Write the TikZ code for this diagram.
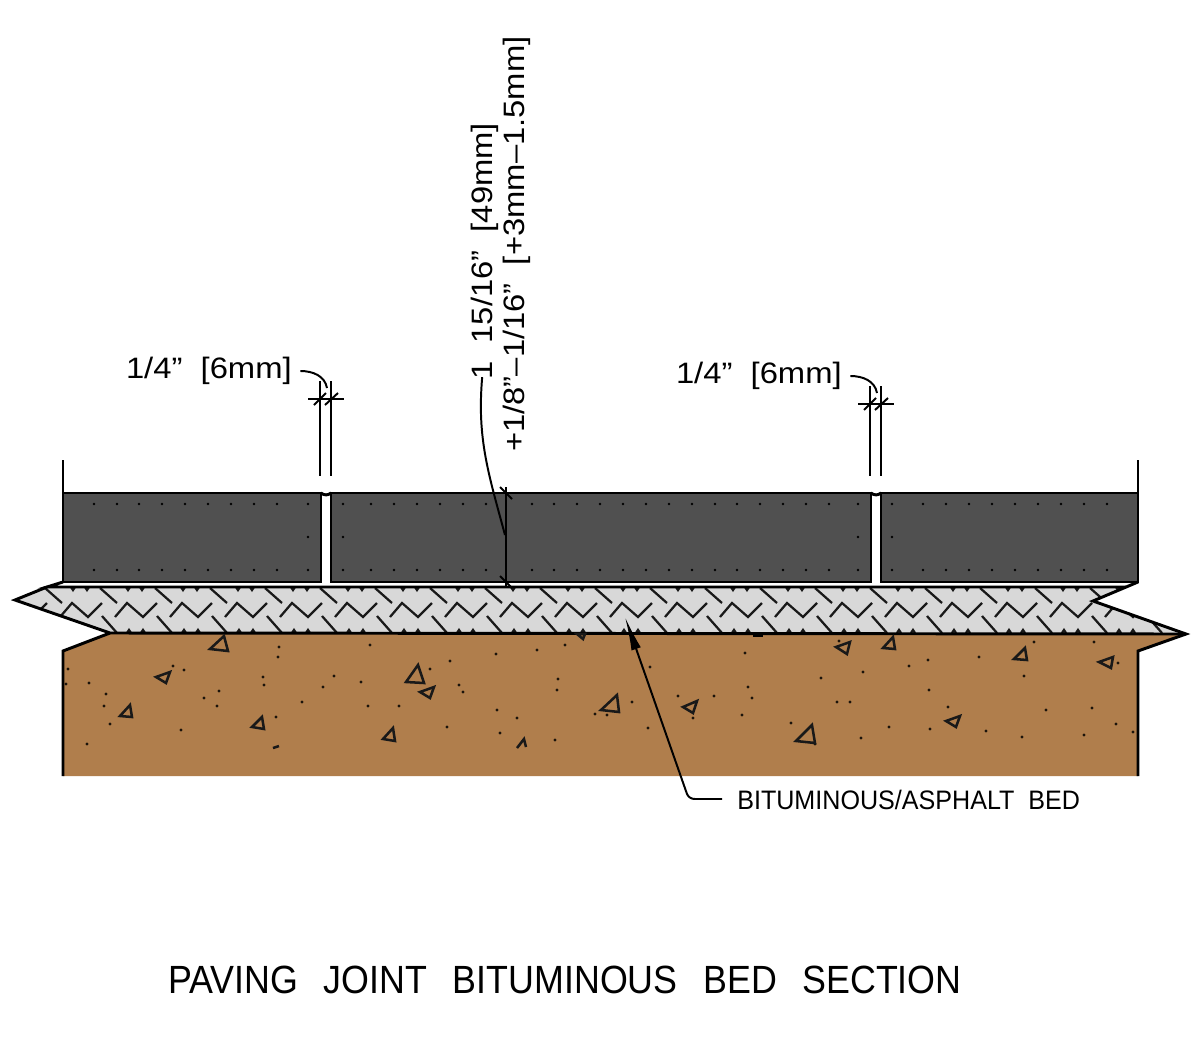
\documentclass[tikz,border=0pt]{standalone}
\usepackage{fontspec}
\setmainfont{Liberation Sans}
\newfontfamily\dimfont[FakeStretch=1.11]{Liberation Sans}
\newfontfamily\notefont[FakeStretch=0.94]{Liberation Sans}
\newfontfamily\titlefont[FakeStretch=0.91]{Liberation Sans}
\newcommand{\wgap}{\ \ \hspace{4pt}}
\usepackage{tikz}
\usetikzlibrary{positioning, arrows.meta}
\definecolor{paver}{HTML}{505050}
\definecolor{bedfill}{HTML}{D8D8D8}
\definecolor{soil}{HTML}{B07E4C}
\tikzset{L/.style={line width=2.1pt, line join=miter, black}}
\tikzset{H/.style={line width=1.6pt, black!90}}
\tikzset{G/.style={line width=1.8pt, black!90}}
\tikzset{D/.style={line width=1.4pt, black}}
\tikzset{T/.style={inner sep=0pt, font=\dimfont\fontsize{21pt}{24pt}\selectfont}}
\tikzset{N/.style={inner sep=0pt, font=\notefont\fontsize{19pt}{22pt}\selectfont}}
\begin{document}
\begin{tikzpicture}[x=0.25mm, y=-0.25mm]
        \useasboundingbox (0,0) rectangle (1200,1050);
        %% Soil and bed
        \path[fill=soil] (110,633) -- (1186,634) -- (1138,651) -- (1138,776) -- (63,776) -- (63,651) -- cycle;
        \path[fill=bedfill] (47,587) -- (1126,587) -- (1093,601) -- (1186,634) -- (110,633) -- (15,600) -- cycle;
        %% Bed hatching
        \begin{scope}
        \clip (47,587) -- (1126,587) -- (1093,601) -- (1186,634) -- (110,633) -- (15,600) -- cycle;
        \foreach \s in {5,60,...,1105} {
            \draw[H] (\s,617) -- ++(12,-14) -- ++(16,14) -- ++(14,-14);
            \draw[H] (\s+40,588) -- ++(17,15);
            \draw[H] (\s+42,616) -- ++(15,17);
            \draw[H] (\s+11,587) -- ++(2,3) -- ++(2,-3);
            \draw[H] (\s+25,587) -- ++(2,3) -- ++(2,-3);
            \draw[H] (\s+12,633) -- ++(2,-3) -- ++(2,3);
            \draw[H] (\s+26,633) -- ++(2,-3) -- ++(2,3);
        }
        \end{scope}
        %% Pavers
        \draw[L,fill=paver] (63,493) rectangle (321,582);
        \draw[L,fill=paver] (331,493) rectangle (506,582);
        \draw[L,fill=paver] (506,493) rectangle (871,582);
        \draw[L,fill=paver] (881,493) rectangle (1138,582);
        \draw[L] (321,493) to [out=-40,in=220] (331,493);
        \draw[L] (871,493) to [out=-40,in=220] (881,493);
        %% Paver dots
        \foreach \x in {94,117,139,162,185,208,231,254,277,308,343,371,394,417,440,463,486,532,554,577,600,623,646,669,692,715,737,760,783,806,829,858,892,923,946,969,992,1015,1038,1061,1084,1107} {
            \fill (\x,504) circle (1.4);
            \fill (\x,570) circle (1.4);
        }
        \foreach \x in {308,343,858,892} {
            \fill (\x,537) circle (1.4);
        }
        %% Break lines
        \draw[L] (63,582) -- (47,587) -- (1126,587);
        \draw[L] (47,587) -- (15,600) -- (110,633) -- (1186,634);
        \draw[L] (63,776) -- (63,651) -- (110,633);
        \draw[L] (1138,582) -- (1093,601) -- (1186,634) -- (1138,651) -- (1138,776);
        %% Soil dots
        \foreach \x/\y in {279/647,278/657,370/645,173/666,184/670,68/669,66/684,89/683,106/694,104/706,110/724,87/744,181/730,204/698,219/691,217/706,263/677,264/685,334/676,323/687,361/682,302/702,368/706,276/717,399/706,565/645,537/650,496/654,450/661,430/669,558/679,557/690,459/685,463/692,497/710,517/718,447/727,500/733,555/740,595/714,607/715,632/702,648/728,650/667,678/696,714/696,745/653,748/687,752/698,742/715,693/718,791/723,839/641,1034/642,1094/642,979/657,928/660,909/666,863/672,821/678,1024/676,1118/663,929/690,837/702,850/702,948/707,1046/710,1092/708,1116/724,1133/732,889/727,930/729,986/731,1022/737,1084/735,861/738,815/744} {
            \fill[black!85!soil] (\x,\y) circle (1.7);
        }
        %% Soil stones
        \foreach \a/\b/\c/\d/\e/\f in {224/636/210/649/228/651,156/677/170/672/166/683,130/705/120/716/132/717,262/717/252/727/264/729,393/728/383/739/395/741,418/665/406/682/424/683,434/687/420/692/430/698,617/695/601/710/619/712,697/701/683/707/693/713,812/725/796/741/815/743,850/642/836/647/847/654,893/637/883/648/895/649,1025/648/1014/659/1027/660,1113/657/1099/662/1111/668,960/716/946/721/956/727,585/634/577/634/583/639} {
            \draw[G] (\a,\b) -- (\c,\d) -- (\e,\f) -- cycle;
        }
        \draw[G] (517,748) -- (524,739) -- (526,747);
        \draw[G] (273,748) -- (279,746);
        \draw[line width=2.6pt] (753,635) -- (763,635);
        %% Outer extension lines
        \draw[D] (63,460) -- (63,493);
        \draw[D] (1138,460) -- (1138,493);
        %% Joint width left
        \node[T,anchor=east] (jointl) at (292,371) {1/4”\ \ [6mm]};
        \draw[D] (320,381) -- (320,476);
        \draw[D] (331,381) -- (331,476);
        \draw[D] (308,399) -- (344,399);
        \draw[D] (314,405) -- (326,393);
        \draw[D] (325,405) -- (338,393);
        \coordinate (jointlend) at (327,388);
        \draw[D] ([xshift=6pt]jointl.east) to [out=0,in=100] (jointlend);
        %% Joint width right
        \node[T,anchor=east] (jointr) at (842,376) {1/4”\ \ [6mm]};
        \draw[D] (870,386) -- (870,476);
        \draw[D] (881,386) -- (881,476);
        \draw[D] (858,404) -- (894,404);
        \draw[D] (864,410) -- (876,398);
        \draw[D] (875,410) -- (888,398);
        \coordinate (jointrend) at (877,393);
        \draw[D] ([xshift=6pt]jointr.east) to [out=0,in=100] (jointrend);
        %% Paver height
        \node[T,rotate=90,anchor=west] (heightu) at (485,380) {1\ \ 15/16”\ \ [49mm]};
        \node[T,rotate=90,anchor=west] (heightv) at (517,452) {+1/8”–1/16”\ \ [+3mm–1.5mm]};
        \draw[D] (458,493) -- (525,493);
        \draw[D] (458,582) -- (525,582);
        \draw[D] (506,487) -- (506,588);
        \draw[D] (500,487) -- (512,499);
        \draw[D] (500,576) -- (512,588);
        \coordinate (heightend) at (505,535);
        \draw[D] ([yshift=2pt,xshift=-2pt]heightu.west) to [out=265,in=105] (heightend);
        %% Bed leader
        \node[N,anchor=west] (bedlabel) at (737,800) {BITUMINOUS/ASPHALT\ \ BED};
        \coordinate (bedend) at (625,617);
        \draw[D,-{Latex[length=24pt,width=7pt]}] (722,799) -- (695,799) to [out=180,in=-65] (687,794) -- (bedend);
        %% Title
        \node[inner sep=0pt,font=\titlefont\fontsize{28pt}{32pt}\selectfont,anchor=west] (title) at (168,980) {PAVING\wgap JOINT\wgap BITUMINOUS\wgap BED\wgap SECTION};
\end{tikzpicture}
\end{document}
